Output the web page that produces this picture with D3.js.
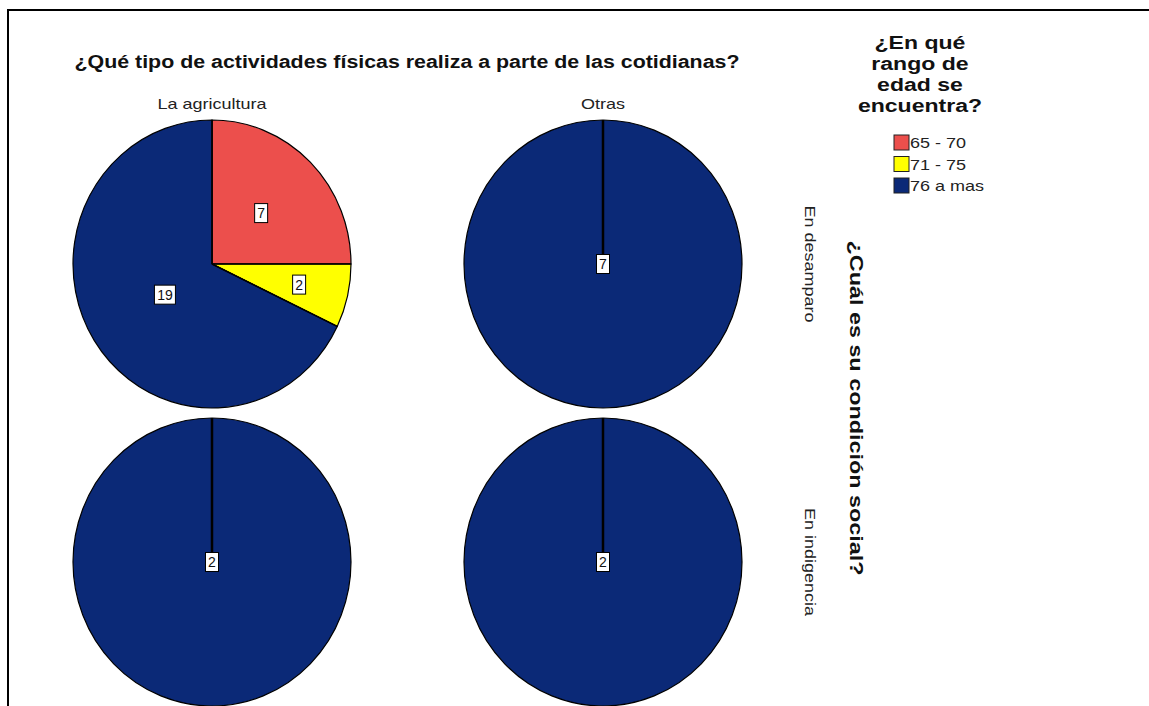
<!DOCTYPE html>
<html>
<head>
<meta charset="utf-8">
<script src="https://cdn.jsdelivr.net/npm/d3@7"></script>
<style>
  html, body { margin: 0; padding: 0; background: #fff; }
  svg { display: block; font-family: "Liberation Sans", Arial, sans-serif; }
</style>
</head>
<body>
<svg id="chart" width="1149" height="706"></svg>
<script>
// Clustered pie chart: age range by physical activity (columns) and social condition (rows)
const chartTitle = "¿Qué tipo de actividades físicas realiza a parte de las cotidianas?";
const rowTitle = "¿Cuál es su condición social?";
const legendTitle = ["¿En qué", "rango de", "edad se", "encuentra?"];

const activities = ["La agricultura", "Otras"];
const conditions = ["En desamparo", "En indigencia"];
const ageGroups = ["65 - 70", "71 - 75", "76 a mas"];
const ageColors = ["#ec4f4c", "#ffff00", "#0b2977"];

// counts per cell, cell order: [desamparo/agricultura, desamparo/otras, indigencia/agricultura, indigencia/otras]
const age65to70 = [7, 0, 0, 0];
const age71to75 = [2, 0, 0, 0];
const age76plus = [19, 7, 2, 2];

const series = [age65to70, age71to75, age76plus];

const svg = d3.select("#chart");
const W = 1149, H = 706;

// the typeface is drawn slightly wide; stretch each text horizontally
function widen(sel, factor) {
  sel.each(function () {
    const len = this.getComputedTextLength();
    d3.select(this).attr("textLength", len * factor).attr("lengthAdjust", "spacingAndGlyphs");
  });
  return sel;
}

// outer frame
svg.append("rect")
  .attr("x", 8).attr("y", 10)
  .attr("width", W + 20).attr("height", H + 20)
  .attr("fill", "none").attr("stroke", "#000").attr("stroke-width", 2);

// panel positions
const x = d3.scalePoint().domain(activities).range([212, 603]);
const y = d3.scalePoint().domain(conditions).range([264, 562]);
const rx = 139, ry = 144;

const color = d3.scaleOrdinal().domain(ageGroups).range(ageColors);
const pie = d3.pie().sort(null).value(d => d.value).startAngle(0).endAngle(2 * Math.PI);
const arc = d3.arc().innerRadius(0).outerRadius(1);

// title
svg.append("text")
  .attr("x", 407).attr("y", 68)
  .attr("text-anchor", "middle")
  .attr("font-size", 18).attr("font-weight", "bold")
  .attr("fill", "#111")
  .attr("textLength", 665).attr("lengthAdjust", "spacingAndGlyphs")
  .text(chartTitle);

// column headers
widen(svg.selectAll("text.col")
  .data(activities).join("text")
  .attr("class", "col")
  .attr("x", d => x(d)).attr("y", 109)
  .attr("text-anchor", "middle")
  .attr("font-size", 15).attr("fill", "#222")
  .text(d => d), 1.2);

// row labels (rotated)
widen(svg.selectAll("text.row")
  .data(conditions).join("text")
  .attr("class", "row")
  .attr("transform", d => `translate(805,${y(d)}) rotate(90)`)
  .attr("text-anchor", "middle")
  .attr("font-size", 15).attr("fill", "#222")
  .text(d => d), 1.2);

svg.append("text")
  .attr("transform", `translate(850,${(y.range()[0] + y.range()[1]) / 2 - 5}) rotate(90)`)
  .attr("text-anchor", "middle")
  .attr("font-size", 19).attr("font-weight", "bold")
  .attr("fill", "#111")
  .attr("textLength", 335).attr("lengthAdjust", "spacingAndGlyphs")
  .text(rowTitle);

// pies
const cells = [];
conditions.forEach((c, ri) => activities.forEach((a, ci) => {
  const idx = ri * activities.length + ci;
  cells.push({
    activity: a, condition: c,
    slices: ageGroups.map((g, gi) => ({ group: g, value: series[gi][idx] }))
  });
}));

cells.forEach(cell => {
  const g = svg.append("g")
    .attr("transform", `translate(${x(cell.activity)},${y(cell.condition)})`);
  const arcs = pie(cell.slices).filter(d => d.value > 0);
  const shapes = g.append("g").attr("transform", `scale(${rx},${ry})`);
  shapes.selectAll("path")
    .data(arcs).join("path")
    .attr("d", arc)
    .attr("fill", d => color(d.data.group))
    .attr("stroke", "#000")
    .attr("stroke-width", 1.2)
    .attr("vector-effect", "non-scaling-stroke");
  // radial boundary at the start of each slice
  g.selectAll("line")
    .data(arcs).join("line")
    .attr("x1", 0).attr("y1", 0)
    .attr("x2", d => Math.sin(d.startAngle) * rx)
    .attr("y2", d => -Math.cos(d.startAngle) * ry)
    .attr("stroke", "#000")
    .attr("stroke-width", arcs.length === 1 ? 2.5 : 1.4);

  // value labels: narrower slices get their label farther out
  arcs.forEach(d => {
    let lx = 0, ly = 0;
    if (arcs.length > 1) {
      const mid = (d.startAngle + d.endAngle) / 2;
      const frac = (d.endAngle - d.startAngle) / (2 * Math.PI);
      const lr = Math.max(0.4, 0.7 - 0.8 * frac);
      lx = Math.sin(mid) * lr * rx;
      ly = -Math.cos(mid) * lr * ry;
    }
    const txt = String(d.value);
    const bw = 5 + txt.length * 8, bh = 19;
    const lg = g.append("g").attr("transform", `translate(${lx},${ly})`);
    lg.append("rect")
      .attr("x", -bw / 2).attr("y", -bh / 2)
      .attr("width", bw).attr("height", bh)
      .attr("fill", "#fff").attr("stroke", "#000").attr("stroke-width", 1);
    lg.append("text")
      .attr("text-anchor", "middle").attr("y", 5)
      .attr("font-size", 14).attr("fill", "#111")
      .text(txt);
  });
});

// legend
const lt = svg.append("text")
  .attr("text-anchor", "middle")
  .attr("font-size", 18).attr("font-weight", "bold").attr("fill", "#111");
legendTitle.forEach((line, i) => {
  const ts = lt.append("tspan").attr("x", 920).attr("y", 49 + i * 21).text(line);
  ts.attr("textLength", ts.node().getComputedTextLength() * 1.28).attr("lengthAdjust", "spacingAndGlyphs");
});

const legend = svg.selectAll("g.legend")
  .data(ageGroups).join("g")
  .attr("class", "legend")
  .attr("transform", (d, i) => `translate(894,${135 + i * 21.5})`);
legend.append("rect")
  .attr("width", 15).attr("height", 15)
  .attr("fill", d => color(d))
  .attr("stroke", "#222").attr("stroke-width", 1);
widen(legend.append("text")
  .attr("x", 16).attr("y", 13)
  .attr("font-size", 15).attr("fill", "#222")
  .text(d => d), 1.2);
</script>
</body>
</html>
